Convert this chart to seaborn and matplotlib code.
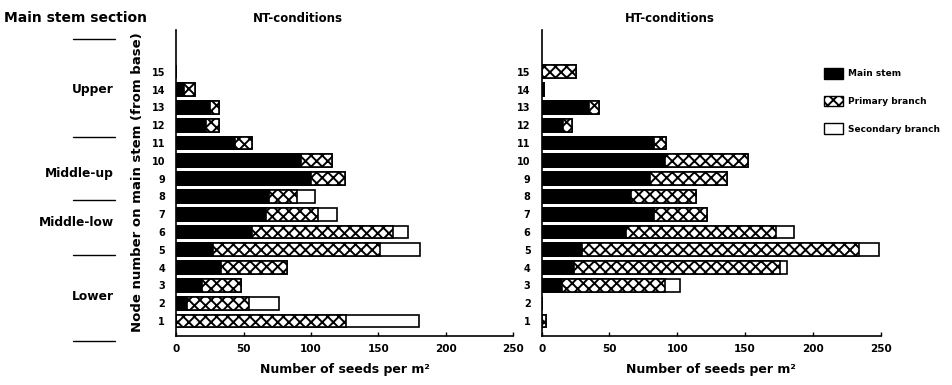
import matplotlib
matplotlib.use("Agg")
import matplotlib.pyplot as plt
from matplotlib.patches import Patch
from matplotlib.lines import Line2D
import seaborn as sns
import pandas as pd
import numpy as np

sns.set_style("ticks")
plt.rcParams['font.family'] = ['DejaVu Sans']
plt.rcParams['font.weight'] = 'bold'
plt.rcParams['hatch.linewidth'] = 1.4
for k in ['text.color', 'axes.labelcolor', 'xtick.color', 'ytick.color', 'axes.edgecolor']:
    plt.rcParams[k] = 'black'

nodes = list(range(1, 16))
nt_main = [0, 8, 19, 33, 27, 56, 67, 69, 100, 93, 44, 22, 25, 6, 0]
nt_primary = [126, 46, 29, 49, 124, 105, 38, 21, 25, 23, 12, 10, 7, 8, 0]
nt_secondary = [54, 22, 0, 0, 30, 11, 14, 13, 0, 0, 0, 0, 0, 0, 0]

ht_main = [0, 0, 15, 24, 30, 62, 83, 66, 80, 91, 83, 16, 35, 2, 0]
ht_primary = [3, 0, 76, 152, 204, 111, 39, 48, 57, 61, 9, 6, 7, 0, 25]
ht_secondary = [0, 0, 11, 5, 15, 13, 0, 0, 0, 0, 0, 0, 0, 0, 0]

x_ticks = [0, 50, 100, 150, 200, 250]
sections = ["Upper", "Middle-up", "Middle-low", "Lower"]
titles = ["NT-conditions", "HT-conditions"]
legend_labels = ["Main stem", "Primary branch", "Secondary branch"]

fig = plt.figure(figsize=(9.52, 3.85), dpi=100)
ax1 = fig.add_axes([0.185, 0.127, 0.354, 0.795])
ax2 = fig.add_axes([0.569, 0.127, 0.356, 0.795])

order = [str(n) for n in reversed(nodes)]


def draw(ax, main, prim, sec):
    df = pd.DataFrame({
        "node": [str(n) for n in nodes],
        "main": main,
        "cum": np.array(main) + np.array(prim),
        "total": np.array(main) + np.array(prim) + np.array(sec),
    })
    common = dict(data=df, y="node", order=order, orient="h", errorbar=None,
                  width=0.72, ax=ax, linewidth=1.2, edgecolor="black")
    sns.barplot(x="total", color="white", saturation=1, **common)
    sns.barplot(x="cum", color="white", saturation=1, hatch="xxx", **common)
    sns.barplot(x="main", color="black", saturation=1, **common)
    ax.set_xlim(0, 250)
    ax.set_ylim(14.85, -2.35)
    ax.set_xticks(x_ticks)
    ax.set_xticklabels([str(t) for t in x_ticks], fontsize=7.5, fontweight="bold")
    ax.set_yticks(range(15))
    ax.set_yticklabels(order, fontsize=7, fontweight="bold")
    ax.tick_params(axis="x", direction="in", length=3, width=1, pad=6)
    ax.tick_params(axis="y", length=0, pad=8)
    ax.set_ylabel("")
    ax.set_xlabel("Number of seeds per m²", fontsize=9, fontweight="bold", labelpad=6)
    for s in ["top", "right"]:
        ax.spines[s].set_visible(False)
    ax.spines["left"].set_linewidth(1.2)
    ax.spines["bottom"].set_linewidth(1.2)


draw(ax1, nt_main, nt_primary, nt_secondary)
draw(ax2, ht_main, ht_primary, ht_secondary)

W, H = 952.0, 385.0
fig.text(298 / W, 1 - 18 / H, titles[0], ha="center", va="center", fontsize=8.5, fontweight="bold")
fig.text(670 / W, 1 - 18 / H, titles[1], ha="center", va="center", fontsize=8.5, fontweight="bold")

fig.text(4 / W, 1 - 18 / H, "Main stem section", ha="left", va="center", fontsize=10, fontweight="bold")
for ypx in [39, 137, 200, 255, 341]:
    fig.add_artist(Line2D([73 / W, 115 / W], [1 - ypx / H, 1 - ypx / H], color="black", lw=1))
for lab, ypx in zip(sections, [89, 173, 222, 297]):
    fig.text(114 / W, 1 - ypx / H, lab, ha="right", va="center", fontsize=8.8, fontweight="bold")

fig.text(138 / W, 1 - 182 / H, "Node number on main stem (from base)", rotation=90,
         ha="center", va="center", fontsize=9.5, fontweight="bold")

handles = [Patch(facecolor="black", edgecolor="black", lw=1),
           Patch(facecolor="white", edgecolor="black", hatch="xxx", lw=1),
           Patch(facecolor="white", edgecolor="black", lw=1)]
fig.legend(handles, legend_labels, loc="upper left", bbox_to_anchor=(816 / W, 1 - 60 / H),
           frameon=False, handlelength=2.1, handleheight=1.4,
           labelspacing=1.9, handletextpad=0.6, prop={"weight": "bold", "size": 6.5})

fig.savefig("out.png", dpi=100)
